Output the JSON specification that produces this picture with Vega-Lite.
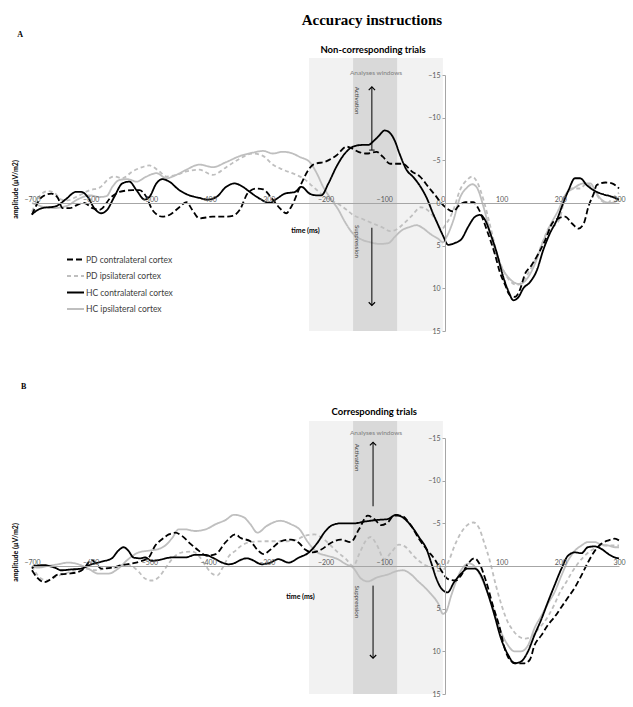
{
"$schema":"https://vega.github.io/schema/vega-lite/v6.json",
"background":"white",
"padding":{"left":11,"top":12,"right":5,"bottom":5},
"config":{"view":{"stroke":null},"legend":{"symbolType":"stroke"}},
"bounds":"flush",
"spacing":107,
"datasets":{
"one":[{}],
"A":[
{"s":"HCi","t":-700,"v":0},{"s":"HCi","t":-683,"v":0.4},{"s":"HCi","t":-665,"v":0.6},{"s":"HCi","t":-643,"v":0.4},{"s":"HCi","t":-620,"v":-0.5},{"s":"HCi","t":-602,"v":-0.9},{"s":"HCi","t":-585,"v":-0.7},{"s":"HCi","t":-573,"v":-0.8},{"s":"HCi","t":-563,"v":-1.9},{"s":"HCi","t":-551,"v":-2.7},{"s":"HCi","t":-537,"v":-2.8},{"s":"HCi","t":-522,"v":-2.5},{"s":"HCi","t":-505,"v":-3.1},{"s":"HCi","t":-488,"v":-3.5},{"s":"HCi","t":-471,"v":-2.9},{"s":"HCi","t":-454,"v":-3.3},{"s":"HCi","t":-437,"v":-3.9},{"s":"HCi","t":-415,"v":-4.5},{"s":"HCi","t":-392,"v":-4.2},{"s":"HCi","t":-369,"v":-4.8},{"s":"HCi","t":-346,"v":-5.5},{"s":"HCi","t":-324,"v":-5.9},{"s":"HCi","t":-306,"v":-6.1},{"s":"HCi","t":-290,"v":-5.8},{"s":"HCi","t":-273,"v":-6.0},{"s":"HCi","t":-256,"v":-5.8},{"s":"HCi","t":-244,"v":-5.4},{"s":"HCi","t":-227,"v":-4.8},{"s":"HCi","t":-215,"v":-3.5},{"s":"HCi","t":-204,"v":-1.9},{"s":"HCi","t":-193,"v":-0.7},{"s":"HCi","t":-178,"v":0.8},{"s":"HCi","t":-167,"v":2.2},{"s":"HCi","t":-153,"v":3.6},{"s":"HCi","t":-138,"v":4.3},{"s":"HCi","t":-124,"v":4.6},{"s":"HCi","t":-107,"v":4.8},{"s":"HCi","t":-93,"v":4.7},{"s":"HCi","t":-81,"v":3.9},{"s":"HCi","t":-70,"v":3.2},{"s":"HCi","t":-56,"v":2.8},{"s":"HCi","t":-45,"v":2.6},{"s":"HCi","t":-33,"v":3.0},{"s":"HCi","t":-22,"v":3.6},{"s":"HCi","t":-8,"v":4.2},{"s":"HCi","t":0,"v":4.6},{"s":"HCi","t":6,"v":4.0},{"s":"HCi","t":18,"v":2.0},{"s":"HCi","t":29,"v":-0.6},{"s":"HCi","t":41,"v":-1.8},{"s":"HCi","t":50,"v":-2.2},{"s":"HCi","t":58,"v":-1.8},{"s":"HCi","t":69,"v":0.4},{"s":"HCi","t":81,"v":3.6},{"s":"HCi","t":92,"v":6.3},{"s":"HCi","t":103,"v":7.9},{"s":"HCi","t":117,"v":9.1},{"s":"HCi","t":131,"v":9.5},{"s":"HCi","t":143,"v":8.9},{"s":"HCi","t":157,"v":7.1},{"s":"HCi","t":169,"v":4.8},{"s":"HCi","t":183,"v":2.6},{"s":"HCi","t":197,"v":0.8},{"s":"HCi","t":208,"v":-0.9},{"s":"HCi","t":222,"v":-1.7},{"s":"HCi","t":240,"v":-2.3},{"s":"HCi","t":251,"v":-2.3},{"s":"HCi","t":262,"v":-1.1},{"s":"HCi","t":274,"v":-0.2},{"s":"HCi","t":285,"v":0},{"s":"HCi","t":300,"v":-0.4},
{"s":"PDi","t":-700,"v":1.0},{"s":"PDi","t":-687,"v":-0.8},{"s":"PDi","t":-673,"v":-1.4},{"s":"PDi","t":-662,"v":-1.2},{"s":"PDi","t":-650,"v":-0.4},{"s":"PDi","t":-640,"v":-0.3},{"s":"PDi","t":-625,"v":-0.7},{"s":"PDi","t":-602,"v":-1.5},{"s":"PDi","t":-585,"v":-1.8},{"s":"PDi","t":-568,"v":-2.9},{"s":"PDi","t":-560,"v":-3.1},{"s":"PDi","t":-546,"v":-2.9},{"s":"PDi","t":-529,"v":-3.7},{"s":"PDi","t":-512,"v":-4.2},{"s":"PDi","t":-500,"v":-4.4},{"s":"PDi","t":-483,"v":-3.7},{"s":"PDi","t":-471,"v":-3.1},{"s":"PDi","t":-454,"v":-3.3},{"s":"PDi","t":-437,"v":-3.7},{"s":"PDi","t":-415,"v":-3.9},{"s":"PDi","t":-392,"v":-3.3},{"s":"PDi","t":-369,"v":-4.2},{"s":"PDi","t":-346,"v":-5.2},{"s":"PDi","t":-324,"v":-5.8},{"s":"PDi","t":-306,"v":-5.5},{"s":"PDi","t":-290,"v":-4.5},{"s":"PDi","t":-272,"v":-3.9},{"s":"PDi","t":-250,"v":-3.3},{"s":"PDi","t":-238,"v":-2.9},{"s":"PDi","t":-221,"v":-1.9},{"s":"PDi","t":-204,"v":-0.9},{"s":"PDi","t":-193,"v":-0.4},{"s":"PDi","t":-176,"v":0.2},{"s":"PDi","t":-164,"v":0.8},{"s":"PDi","t":-153,"v":1.4},{"s":"PDi","t":-136,"v":1.9},{"s":"PDi","t":-119,"v":2.4},{"s":"PDi","t":-102,"v":2.9},{"s":"PDi","t":-90,"v":3.3},{"s":"PDi","t":-79,"v":3.1},{"s":"PDi","t":-68,"v":2.5},{"s":"PDi","t":-53,"v":1.5},{"s":"PDi","t":-38,"v":0.5},{"s":"PDi","t":-25,"v":0.9},{"s":"PDi","t":-12,"v":2.0},{"s":"PDi","t":-3,"v":3.1},{"s":"PDi","t":6,"v":2.4},{"s":"PDi","t":18,"v":0.8},{"s":"PDi","t":29,"v":-1.5},{"s":"PDi","t":41,"v":-2.7},{"s":"PDi","t":50,"v":-3.1},{"s":"PDi","t":58,"v":-2.5},{"s":"PDi","t":69,"v":-0.4},{"s":"PDi","t":81,"v":2.8},{"s":"PDi","t":92,"v":5.9},{"s":"PDi","t":103,"v":7.9},{"s":"PDi","t":114,"v":9.1},{"s":"PDi","t":126,"v":9.6},{"s":"PDi","t":137,"v":9.1},{"s":"PDi","t":148,"v":7.9},{"s":"PDi","t":160,"v":6.3},{"s":"PDi","t":171,"v":4.4},{"s":"PDi","t":182,"v":2.8},{"s":"PDi","t":191,"v":2.6},{"s":"PDi","t":200,"v":1.6},{"s":"PDi","t":208,"v":-0.7},{"s":"PDi","t":220,"v":-1.7},{"s":"PDi","t":234,"v":-1.7},{"s":"PDi","t":245,"v":-2.3},{"s":"PDi","t":257,"v":-1.5},{"s":"PDi","t":268,"v":-0.4},{"s":"PDi","t":280,"v":0},{"s":"PDi","t":291,"v":-0.7},{"s":"PDi","t":300,"v":-1.2},
{"s":"PDc","t":-700,"v":1.4},{"s":"PDc","t":-683,"v":-0.7},{"s":"PDc","t":-667,"v":-1.1},{"s":"PDc","t":-656,"v":-0.6},{"s":"PDc","t":-648,"v":0.6},{"s":"PDc","t":-636,"v":0.6},{"s":"PDc","t":-619,"v":0.1},{"s":"PDc","t":-611,"v":0},{"s":"PDc","t":-597,"v":0.6},{"s":"PDc","t":-585,"v":0.8},{"s":"PDc","t":-565,"v":-0.7},{"s":"PDc","t":-551,"v":-1.3},{"s":"PDc","t":-529,"v":-1.5},{"s":"PDc","t":-517,"v":-1.5},{"s":"PDc","t":-505,"v":-0.7},{"s":"PDc","t":-495,"v":0.8},{"s":"PDc","t":-478,"v":1.6},{"s":"PDc","t":-466,"v":1.4},{"s":"PDc","t":-449,"v":0.5},{"s":"PDc","t":-437,"v":-0.1},{"s":"PDc","t":-427,"v":0.8},{"s":"PDc","t":-415,"v":1.8},{"s":"PDc","t":-392,"v":1.6},{"s":"PDc","t":-370,"v":1.6},{"s":"PDc","t":-358,"v":1.5},{"s":"PDc","t":-346,"v":0.8},{"s":"PDc","t":-332,"v":-1.2},{"s":"PDc","t":-318,"v":-1.7},{"s":"PDc","t":-306,"v":-1.6},{"s":"PDc","t":-292,"v":-0.6},{"s":"PDc","t":-278,"v":0.6},{"s":"PDc","t":-267,"v":1.2},{"s":"PDc","t":-258,"v":0.4},{"s":"PDc","t":-241,"v":-2.3},{"s":"PDc","t":-229,"v":-3.9},{"s":"PDc","t":-221,"v":-4.5},{"s":"PDc","t":-198,"v":-4.9},{"s":"PDc","t":-181,"v":-5.6},{"s":"PDc","t":-164,"v":-6.6},{"s":"PDc","t":-155,"v":-6.4},{"s":"PDc","t":-144,"v":-6.0},{"s":"PDc","t":-130,"v":-5.8},{"s":"PDc","t":-113,"v":-6.0},{"s":"PDc","t":-102,"v":-5.4},{"s":"PDc","t":-90,"v":-4.6},{"s":"PDc","t":-79,"v":-4.6},{"s":"PDc","t":-68,"v":-4.6},{"s":"PDc","t":-53,"v":-3.7},{"s":"PDc","t":-39,"v":-3.1},{"s":"PDc","t":-25,"v":-1.9},{"s":"PDc","t":-13,"v":-0.9},{"s":"PDc","t":-4,"v":-0.1},{"s":"PDc","t":6,"v":0.6},{"s":"PDc","t":18,"v":1.0},{"s":"PDc","t":26,"v":0.4},{"s":"PDc","t":38,"v":-0.1},{"s":"PDc","t":52,"v":-0.1},{"s":"PDc","t":60,"v":0.6},{"s":"PDc","t":75,"v":3.2},{"s":"PDc","t":89,"v":6.1},{"s":"PDc","t":97,"v":8.1},{"s":"PDc","t":106,"v":9.6},{"s":"PDc","t":114,"v":10.8},{"s":"PDc","t":123,"v":11.0},{"s":"PDc","t":131,"v":10.2},{"s":"PDc","t":140,"v":8.3},{"s":"PDc","t":151,"v":7.3},{"s":"PDc","t":163,"v":5.9},{"s":"PDc","t":174,"v":4.4},{"s":"PDc","t":186,"v":2.4},{"s":"PDc","t":197,"v":1.8},{"s":"PDc","t":208,"v":1.6},{"s":"PDc","t":220,"v":2.4},{"s":"PDc","t":231,"v":3.0},{"s":"PDc","t":240,"v":2.4},{"s":"PDc","t":248,"v":0.4},{"s":"PDc","t":257,"v":-1.1},{"s":"PDc","t":262,"v":-2.1},{"s":"PDc","t":277,"v":-2.4},{"s":"PDc","t":288,"v":-2.3},{"s":"PDc","t":300,"v":-1.7},
{"s":"HCc","t":-700,"v":1.3},{"s":"HCc","t":-683,"v":0.6},{"s":"HCc","t":-660,"v":0.4},{"s":"HCc","t":-643,"v":-0.4},{"s":"HCc","t":-625,"v":-1.3},{"s":"HCc","t":-616,"v":-1.3},{"s":"HCc","t":-605,"v":-0.7},{"s":"HCc","t":-594,"v":0.6},{"s":"HCc","t":-582,"v":1.2},{"s":"HCc","t":-572,"v":0.8},{"s":"HCc","t":-560,"v":-0.7},{"s":"HCc","t":-546,"v":-2.3},{"s":"HCc","t":-534,"v":-2.5},{"s":"HCc","t":-522,"v":-1.5},{"s":"HCc","t":-508,"v":-0.4},{"s":"HCc","t":-500,"v":-0.7},{"s":"HCc","t":-488,"v":-2.3},{"s":"HCc","t":-478,"v":-2.8},{"s":"HCc","t":-466,"v":-2.5},{"s":"HCc","t":-449,"v":-1.5},{"s":"HCc","t":-432,"v":-0.9},{"s":"HCc","t":-415,"v":-0.6},{"s":"HCc","t":-401,"v":-0.4},{"s":"HCc","t":-386,"v":-0.7},{"s":"HCc","t":-369,"v":-1.9},{"s":"HCc","t":-355,"v":-2.3},{"s":"HCc","t":-341,"v":-1.9},{"s":"HCc","t":-329,"v":-1.3},{"s":"HCc","t":-312,"v":-0.5},{"s":"HCc","t":-295,"v":0},{"s":"HCc","t":-283,"v":-0.5},{"s":"HCc","t":-269,"v":-1.1},{"s":"HCc","t":-252,"v":-1.3},{"s":"HCc","t":-241,"v":-1.9},{"s":"HCc","t":-227,"v":-1.1},{"s":"HCc","t":-215,"v":-0.9},{"s":"HCc","t":-207,"v":-0.9},{"s":"HCc","t":-195,"v":-2.3},{"s":"HCc","t":-181,"v":-4.3},{"s":"HCc","t":-167,"v":-5.8},{"s":"HCc","t":-153,"v":-6.6},{"s":"HCc","t":-138,"v":-6.8},{"s":"HCc","t":-127,"v":-6.8},{"s":"HCc","t":-119,"v":-7.2},{"s":"HCc","t":-110,"v":-7.8},{"s":"HCc","t":-99,"v":-8.5},{"s":"HCc","t":-90,"v":-8.2},{"s":"HCc","t":-82,"v":-7.3},{"s":"HCc","t":-74,"v":-5.8},{"s":"HCc","t":-62,"v":-3.9},{"s":"HCc","t":-50,"v":-3.0},{"s":"HCc","t":-40,"v":-2.1},{"s":"HCc","t":-27,"v":-0.5},{"s":"HCc","t":-17,"v":1.2},{"s":"HCc","t":-8,"v":2.6},{"s":"HCc","t":0,"v":3.8},{"s":"HCc","t":9,"v":4.9},{"s":"HCc","t":20,"v":4.7},{"s":"HCc","t":32,"v":4.2},{"s":"HCc","t":43,"v":2.8},{"s":"HCc","t":55,"v":1.6},{"s":"HCc","t":63,"v":1.4},{"s":"HCc","t":72,"v":2.0},{"s":"HCc","t":81,"v":3.6},{"s":"HCc","t":92,"v":5.9},{"s":"HCc","t":103,"v":8.7},{"s":"HCc","t":112,"v":10.4},{"s":"HCc","t":120,"v":11.4},{"s":"HCc","t":129,"v":11.0},{"s":"HCc","t":137,"v":10.0},{"s":"HCc","t":148,"v":9.3},{"s":"HCc","t":160,"v":7.9},{"s":"HCc","t":171,"v":5.5},{"s":"HCc","t":182,"v":3.6},{"s":"HCc","t":194,"v":2.0},{"s":"HCc","t":205,"v":0},{"s":"HCc","t":214,"v":-1.5},{"s":"HCc","t":225,"v":-2.9},{"s":"HCc","t":234,"v":-2.9},{"s":"HCc","t":245,"v":-2.1},{"s":"HCc","t":259,"v":-1.4},{"s":"HCc","t":274,"v":-1.0},{"s":"HCc","t":285,"v":-0.8},{"s":"HCc","t":300,"v":-0.4}
],
"B":[
{"s":"HCi","t":-700,"v":0},{"s":"HCi","t":-690,"v":0.2},{"s":"HCi","t":-673,"v":0},{"s":"HCi","t":-656,"v":-0.2},{"s":"HCi","t":-638,"v":-0.4},{"s":"HCi","t":-621,"v":-0.2},{"s":"HCi","t":-604,"v":0.3},{"s":"HCi","t":-587,"v":0.9},{"s":"HCi","t":-570,"v":0.9},{"s":"HCi","t":-553,"v":0.3},{"s":"HCi","t":-536,"v":-0.8},{"s":"HCi","t":-518,"v":-1.6},{"s":"HCi","t":-501,"v":-1.8},{"s":"HCi","t":-484,"v":-2.0},{"s":"HCi","t":-473,"v":-2.4},{"s":"HCi","t":-461,"v":-3.3},{"s":"HCi","t":-450,"v":-4.3},{"s":"HCi","t":-439,"v":-4.3},{"s":"HCi","t":-422,"v":-4.1},{"s":"HCi","t":-404,"v":-4.3},{"s":"HCi","t":-387,"v":-4.9},{"s":"HCi","t":-370,"v":-5.4},{"s":"HCi","t":-356,"v":-6.0},{"s":"HCi","t":-339,"v":-5.7},{"s":"HCi","t":-328,"v":-4.9},{"s":"HCi","t":-316,"v":-3.9},{"s":"HCi","t":-300,"v":-4.7},{"s":"HCi","t":-277,"v":-5.3},{"s":"HCi","t":-259,"v":-4.9},{"s":"HCi","t":-243,"v":-4.2},{"s":"HCi","t":-231,"v":-2.9},{"s":"HCi","t":-214,"v":-1.6},{"s":"HCi","t":-197,"v":-1.2},{"s":"HCi","t":-179,"v":-0.8},{"s":"HCi","t":-165,"v":-0.2},{"s":"HCi","t":-153,"v":0.2},{"s":"HCi","t":-139,"v":1.5},{"s":"HCi","t":-128,"v":1.8},{"s":"HCi","t":-111,"v":1.3},{"s":"HCi","t":-94,"v":1.0},{"s":"HCi","t":-79,"v":0.6},{"s":"HCi","t":-68,"v":0.5},{"s":"HCi","t":-54,"v":1.0},{"s":"HCi","t":-42,"v":1.8},{"s":"HCi","t":-31,"v":2.5},{"s":"HCi","t":-20,"v":3.3},{"s":"HCi","t":-8,"v":4.4},{"s":"HCi","t":0,"v":5.6},{"s":"HCi","t":5,"v":5.4},{"s":"HCi","t":14,"v":3.5},{"s":"HCi","t":22,"v":1.9},{"s":"HCi","t":31,"v":0.5},{"s":"HCi","t":45,"v":-0.3},{"s":"HCi","t":56,"v":0.2},{"s":"HCi","t":65,"v":1.3},{"s":"HCi","t":76,"v":3.1},{"s":"HCi","t":88,"v":5.4},{"s":"HCi","t":99,"v":7.7},{"s":"HCi","t":111,"v":9.3},{"s":"HCi","t":122,"v":10.0},{"s":"HCi","t":133,"v":10.0},{"s":"HCi","t":145,"v":9.3},{"s":"HCi","t":156,"v":7.3},{"s":"HCi","t":168,"v":5.8},{"s":"HCi","t":179,"v":4.4},{"s":"HCi","t":190,"v":3.1},{"s":"HCi","t":202,"v":1.1},{"s":"HCi","t":213,"v":-0.6},{"s":"HCi","t":225,"v":-1.8},{"s":"HCi","t":236,"v":-2.4},{"s":"HCi","t":247,"v":-2.8},{"s":"HCi","t":259,"v":-2.8},{"s":"HCi","t":270,"v":-2.5},{"s":"HCi","t":282,"v":-2.4},{"s":"HCi","t":293,"v":-2.2},{"s":"HCi","t":300,"v":-2.2},
{"s":"PDi","t":-700,"v":0},{"s":"PDi","t":-696,"v":0.5},{"s":"PDi","t":-684,"v":1.5},{"s":"PDi","t":-673,"v":1.7},{"s":"PDi","t":-661,"v":1.3},{"s":"PDi","t":-644,"v":0.9},{"s":"PDi","t":-627,"v":0.5},{"s":"PDi","t":-610,"v":0.3},{"s":"PDi","t":-593,"v":0.5},{"s":"PDi","t":-575,"v":0.3},{"s":"PDi","t":-558,"v":0.2},{"s":"PDi","t":-541,"v":-0.2},{"s":"PDi","t":-530,"v":0},{"s":"PDi","t":-518,"v":0.7},{"s":"PDi","t":-507,"v":1.5},{"s":"PDi","t":-496,"v":1.7},{"s":"PDi","t":-484,"v":1.3},{"s":"PDi","t":-473,"v":0.3},{"s":"PDi","t":-459,"v":-1.0},{"s":"PDi","t":-444,"v":-1.6},{"s":"PDi","t":-427,"v":-1.7},{"s":"PDi","t":-416,"v":-1.2},{"s":"PDi","t":-404,"v":0},{"s":"PDi","t":-393,"v":0.9},{"s":"PDi","t":-384,"v":1.1},{"s":"PDi","t":-376,"v":0.3},{"s":"PDi","t":-364,"v":-1.2},{"s":"PDi","t":-353,"v":-1.8},{"s":"PDi","t":-345,"v":-2.3},{"s":"PDi","t":-328,"v":-2.8},{"s":"PDi","t":-305,"v":-2.9},{"s":"PDi","t":-282,"v":-2.9},{"s":"PDi","t":-265,"v":-2.9},{"s":"PDi","t":-248,"v":-3.1},{"s":"PDi","t":-237,"v":-3.5},{"s":"PDi","t":-219,"v":-3.7},{"s":"PDi","t":-202,"v":-3.1},{"s":"PDi","t":-191,"v":-2.4},{"s":"PDi","t":-179,"v":-1.6},{"s":"PDi","t":-165,"v":-0.8},{"s":"PDi","t":-153,"v":0},{"s":"PDi","t":-142,"v":-1.5},{"s":"PDi","t":-132,"v":-2.9},{"s":"PDi","t":-123,"v":-3.4},{"s":"PDi","t":-112,"v":-2.4},{"s":"PDi","t":-100,"v":-0.8},{"s":"PDi","t":-88,"v":-1.6},{"s":"PDi","t":-75,"v":-2.5},{"s":"PDi","t":-65,"v":-2.3},{"s":"PDi","t":-50,"v":-1.2},{"s":"PDi","t":-35,"v":-0.3},{"s":"PDi","t":-20,"v":0.2},{"s":"PDi","t":-5,"v":0.6},{"s":"PDi","t":0,"v":0.5},{"s":"PDi","t":10,"v":-0.6},{"s":"PDi","t":20,"v":-2.4},{"s":"PDi","t":30,"v":-3.8},{"s":"PDi","t":40,"v":-4.7},{"s":"PDi","t":52,"v":-5.1},{"s":"PDi","t":62,"v":-4.4},{"s":"PDi","t":70,"v":-2.8},{"s":"PDi","t":80,"v":-0.6},{"s":"PDi","t":90,"v":2.2},{"s":"PDi","t":100,"v":4.6},{"s":"PDi","t":110,"v":6.5},{"s":"PDi","t":120,"v":7.6},{"s":"PDi","t":130,"v":8.3},{"s":"PDi","t":140,"v":8.5},{"s":"PDi","t":150,"v":8.3},{"s":"PDi","t":160,"v":7.6},{"s":"PDi","t":170,"v":6.8},{"s":"PDi","t":180,"v":5.8},{"s":"PDi","t":190,"v":4.5},{"s":"PDi","t":200,"v":3.0},{"s":"PDi","t":210,"v":1.9},{"s":"PDi","t":220,"v":0.7},{"s":"PDi","t":230,"v":-0.3},{"s":"PDi","t":240,"v":-1.1},{"s":"PDi","t":250,"v":-1.7},{"s":"PDi","t":260,"v":-2.1},{"s":"PDi","t":270,"v":-2.4},{"s":"PDi","t":285,"v":-2.4},{"s":"PDi","t":300,"v":-2.4},
{"s":"PDc","t":-700,"v":0.5},{"s":"PDc","t":-692,"v":1.3},{"s":"PDc","t":-679,"v":1.9},{"s":"PDc","t":-667,"v":1.5},{"s":"PDc","t":-656,"v":1.0},{"s":"PDc","t":-638,"v":0.9},{"s":"PDc","t":-621,"v":0.7},{"s":"PDc","t":-610,"v":0.2},{"s":"PDc","t":-604,"v":-0.4},{"s":"PDc","t":-598,"v":-0.7},{"s":"PDc","t":-590,"v":-0.2},{"s":"PDc","t":-582,"v":0.3},{"s":"PDc","t":-564,"v":0.2},{"s":"PDc","t":-547,"v":-0.1},{"s":"PDc","t":-530,"v":-0.3},{"s":"PDc","t":-513,"v":-0.6},{"s":"PDc","t":-501,"v":-1.0},{"s":"PDc","t":-490,"v":-2.4},{"s":"PDc","t":-479,"v":-3.1},{"s":"PDc","t":-467,"v":-3.7},{"s":"PDc","t":-456,"v":-3.9},{"s":"PDc","t":-444,"v":-3.5},{"s":"PDc","t":-430,"v":-2.6},{"s":"PDc","t":-416,"v":-1.8},{"s":"PDc","t":-402,"v":-1.2},{"s":"PDc","t":-387,"v":-1.4},{"s":"PDc","t":-370,"v":-2.8},{"s":"PDc","t":-353,"v":-3.7},{"s":"PDc","t":-345,"v":-3.3},{"s":"PDc","t":-328,"v":-2.9},{"s":"PDc","t":-316,"v":-1.9},{"s":"PDc","t":-305,"v":-1.4},{"s":"PDc","t":-294,"v":-1.9},{"s":"PDc","t":-276,"v":-2.9},{"s":"PDc","t":-259,"v":-3.1},{"s":"PDc","t":-245,"v":-2.7},{"s":"PDc","t":-234,"v":-1.9},{"s":"PDc","t":-222,"v":-1.6},{"s":"PDc","t":-208,"v":-1.9},{"s":"PDc","t":-191,"v":-2.7},{"s":"PDc","t":-174,"v":-3.1},{"s":"PDc","t":-157,"v":-2.8},{"s":"PDc","t":-143,"v":-4.3},{"s":"PDc","t":-128,"v":-5.9},{"s":"PDc","t":-117,"v":-5.5},{"s":"PDc","t":-105,"v":-4.8},{"s":"PDc","t":-94,"v":-5.1},{"s":"PDc","t":-83,"v":-5.9},{"s":"PDc","t":-71,"v":-5.9},{"s":"PDc","t":-54,"v":-4.7},{"s":"PDc","t":-40,"v":-3.1},{"s":"PDc","t":-26,"v":-1.8},{"s":"PDc","t":-14,"v":-0.8},{"s":"PDc","t":-3,"v":0.5},{"s":"PDc","t":8,"v":1.5},{"s":"PDc","t":22,"v":1.7},{"s":"PDc","t":31,"v":1.1},{"s":"PDc","t":42,"v":-0.2},{"s":"PDc","t":54,"v":-0.9},{"s":"PDc","t":62,"v":-0.3},{"s":"PDc","t":74,"v":1.9},{"s":"PDc","t":85,"v":4.6},{"s":"PDc","t":97,"v":7.3},{"s":"PDc","t":105,"v":9.6},{"s":"PDc","t":114,"v":11.0},{"s":"PDc","t":125,"v":11.4},{"s":"PDc","t":139,"v":11.4},{"s":"PDc","t":148,"v":11.0},{"s":"PDc","t":156,"v":9.3},{"s":"PDc","t":168,"v":8.1},{"s":"PDc","t":179,"v":6.9},{"s":"PDc","t":190,"v":6.0},{"s":"PDc","t":202,"v":4.8},{"s":"PDc","t":213,"v":3.7},{"s":"PDc","t":225,"v":2.5},{"s":"PDc","t":236,"v":1.1},{"s":"PDc","t":247,"v":-0.4},{"s":"PDc","t":259,"v":-1.8},{"s":"PDc","t":270,"v":-2.6},{"s":"PDc","t":282,"v":-3.0},{"s":"PDc","t":293,"v":-3.2},{"s":"PDc","t":300,"v":-3.0},
{"s":"HCc","t":-700,"v":0.3},{"s":"HCc","t":-696,"v":0},{"s":"HCc","t":-679,"v":-0.1},{"s":"HCc","t":-661,"v":0.2},{"s":"HCc","t":-650,"v":0.5},{"s":"HCc","t":-633,"v":0.4},{"s":"HCc","t":-616,"v":0.3},{"s":"HCc","t":-599,"v":-0.2},{"s":"HCc","t":-582,"v":-0.5},{"s":"HCc","t":-564,"v":-0.9},{"s":"HCc","t":-553,"v":-1.8},{"s":"HCc","t":-544,"v":-2.2},{"s":"HCc","t":-536,"v":-1.8},{"s":"HCc","t":-527,"v":-1.0},{"s":"HCc","t":-516,"v":-0.9},{"s":"HCc","t":-507,"v":-1.0},{"s":"HCc","t":-496,"v":-0.6},{"s":"HCc","t":-484,"v":-0.7},{"s":"HCc","t":-462,"v":-1.0},{"s":"HCc","t":-439,"v":-1.0},{"s":"HCc","t":-422,"v":-1.3},{"s":"HCc","t":-404,"v":-1.3},{"s":"HCc","t":-393,"v":-1.0},{"s":"HCc","t":-376,"v":-0.4},{"s":"HCc","t":-365,"v":-0.2},{"s":"HCc","t":-353,"v":-0.4},{"s":"HCc","t":-345,"v":-0.7},{"s":"HCc","t":-334,"v":-0.9},{"s":"HCc","t":-328,"v":-0.8},{"s":"HCc","t":-308,"v":-0.2},{"s":"HCc","t":-294,"v":-0.4},{"s":"HCc","t":-280,"v":-0.8},{"s":"HCc","t":-263,"v":-0.4},{"s":"HCc","t":-245,"v":-1.0},{"s":"HCc","t":-228,"v":-1.6},{"s":"HCc","t":-214,"v":-2.7},{"s":"HCc","t":-200,"v":-4.1},{"s":"HCc","t":-188,"v":-4.8},{"s":"HCc","t":-174,"v":-5.0},{"s":"HCc","t":-151,"v":-5.0},{"s":"HCc","t":-134,"v":-5.2},{"s":"HCc","t":-111,"v":-5.4},{"s":"HCc","t":-94,"v":-5.5},{"s":"HCc","t":-80,"v":-6.0},{"s":"HCc","t":-71,"v":-5.8},{"s":"HCc","t":-54,"v":-4.7},{"s":"HCc","t":-40,"v":-3.3},{"s":"HCc","t":-28,"v":-2.0},{"s":"HCc","t":-20,"v":-0.4},{"s":"HCc","t":-11,"v":1.5},{"s":"HCc","t":-3,"v":2.6},{"s":"HCc","t":8,"v":3.1},{"s":"HCc","t":19,"v":1.9},{"s":"HCc","t":31,"v":0.9},{"s":"HCc","t":42,"v":0.3},{"s":"HCc","t":54,"v":0.3},{"s":"HCc","t":65,"v":1.1},{"s":"HCc","t":76,"v":3.1},{"s":"HCc","t":88,"v":5.8},{"s":"HCc","t":99,"v":8.5},{"s":"HCc","t":111,"v":10.4},{"s":"HCc","t":122,"v":11.4},{"s":"HCc","t":133,"v":11.2},{"s":"HCc","t":145,"v":10.0},{"s":"HCc","t":156,"v":8.1},{"s":"HCc","t":168,"v":6.2},{"s":"HCc","t":179,"v":4.2},{"s":"HCc","t":190,"v":2.3},{"s":"HCc","t":202,"v":0.3},{"s":"HCc","t":213,"v":-1.2},{"s":"HCc","t":225,"v":-1.6},{"s":"HCc","t":236,"v":-1.5},{"s":"HCc","t":247,"v":-2.2},{"s":"HCc","t":259,"v":-2.3},{"s":"HCc","t":270,"v":-2.0},{"s":"HCc","t":282,"v":-1.4},{"s":"HCc","t":293,"v":-1.0},{"s":"HCc","t":300,"v":-0.9}
]
},
"vconcat":[
{
"width":587,"height":256,
"data":{"name":"one"},
"layer":[
{"mark":{"type":"rect","color":"#f2f2f2"},"encoding":{"x":{"datum":-228,"type":"quantitative"},"x2":{"datum":0},"y":{"datum":-17,"type":"quantitative"},"y2":{"datum":15}}},
{"mark":{"type":"rect","color":"#d9d9d9"},"encoding":{"x":{"datum":-153,"type":"quantitative"},"x2":{"datum":-78},"y":{"datum":-17,"type":"quantitative"},"y2":{"datum":15}}},
{"data":{"name":"A"},"mark":{"type":"line","strokeWidth":1.8,"interpolate":"monotone"},
"encoding":{
"x":{"field":"t","type":"quantitative","scale":{"domain":[-700,300],"nice":false,"zero":false},"axis":{"zindex":1,"orient":"top","offset":-128,"values":[-700,-600,-500,-400,-300,-200,-100,0,100,200,300],"ticks":false,"grid":false,"labelFlush":false,"labelOverlap":false,"labelFont":"Lato","labelFontSize":7,"labelColor":"#595959","labelPadding":1,"domainColor":"#a6a6a6","title":"time (ms)","titleFont":"Lato","titleFontSize":7,"titleFontWeight":"bold","titleColor":"#000000","titleX":273,"titleY":27,"titleAlign":"center","titleBaseline":"middle"}},
"y":{"field":"v","type":"quantitative","scale":{"domain":[-15,15],"reverse":true,"nice":false,"zero":false},"axis":{"zindex":1,"orient":"left","offset":-413,"values":[-15,-10,-5,0,5,10,15],"tickSize":3,"tickColor":"#a6a6a6","grid":false,"labelFont":"Lato","labelFontSize":7,"labelColor":"#595959","labelPadding":2,"domainColor":"#a6a6a6","title":"amplitude (µV/m2)","titleFont":"Lato","titleFontSize":7,"titleFontWeight":"bold","titleColor":"#000000","titleX":-430,"titleY":114,"titleAngle":-90,"titleAlign":"center","titleBaseline":"middle"}},
"color":{"field":"s","type":"nominal","scale":{"domain":["PDc","PDi","HCc","HCi"],"range":["#000000","#bfbfbf","#000000","#bfbfbf"]},"legend":{"title":null,"orient":"none","legendX":34,"legendY":175,"symbolType":"stroke","symbolSize":289,"symbolStrokeWidth":2,"labelFont":"Lato","labelFontSize":8.5,"labelColor":"#404040","labelOffset":1,"rowPadding":2.5,"labelExpr":"datum.label=='PDc'?'PD contralateral cortex':datum.label=='PDi'?'PD ipsilateral cortex':datum.label=='HCc'?'HC contralateral cortex':'HC ipsilateral cortex'"}},
"strokeDash":{"field":"s","type":"nominal","scale":{"domain":["PDc","PDi","HCc","HCi"],"range":[[6,3],[4,3],[1,0],[1,0]]},"legend":{"title":null,"orient":"none","legendX":34,"legendY":175,"symbolType":"stroke","symbolSize":289,"symbolStrokeWidth":2,"labelFont":"Lato","labelFontSize":8.5,"labelColor":"#404040","labelOffset":1,"rowPadding":2.5,"labelExpr":"datum.label=='PDc'?'PD contralateral cortex':datum.label=='PDi'?'PD ipsilateral cortex':datum.label=='HCc'?'HC contralateral cortex':'HC ipsilateral cortex'"}}
}},
{"mark":{"type":"text","text":"Accuracy instructions","font":"Liberation Serif","fontSize":15,"fontWeight":"bold","color":"#000000"},"encoding":{"x":{"datum":-121,"type":"quantitative"},"y":{"datum":-21.45,"type":"quantitative"}}},
{"mark":{"type":"text","text":"Non-corresponding trials","font":"Lato","fontSize":9.5,"fontWeight":"bold","color":"#000000"},"encoding":{"x":{"datum":-119,"type":"quantitative"},"y":{"datum":-17.9,"type":"quantitative"}}},
{"mark":{"type":"text","text":"Analyses windows","font":"Lato","fontSize":6.5,"color":"#808080"},"encoding":{"x":{"datum":-114,"type":"quantitative"},"y":{"datum":-15.2,"type":"quantitative"}}},
{"mark":{"type":"text","text":"Activation","font":"Lato","fontSize":6.2,"angle":90,"color":"#404040"},"encoding":{"x":{"datum":-147,"type":"quantitative"},"y":{"datum":-12,"type":"quantitative"}}},
{"mark":{"type":"text","text":"Suppression","font":"Lato","fontSize":6.2,"angle":90,"color":"#404040"},"encoding":{"x":{"datum":-147,"type":"quantitative"},"y":{"datum":4.5,"type":"quantitative"}}},
{"mark":{"type":"text","text":"A","font":"Liberation Serif","fontSize":8,"fontWeight":"bold","color":"#000000"},"encoding":{"x":{"datum":-720,"type":"quantitative"},"y":{"datum":-19.7,"type":"quantitative"}}},
{"mark":{"type":"rule","color":"#000000","strokeWidth":1},"encoding":{"x":{"datum":-121,"type":"quantitative"},"y":{"datum":-6.2,"type":"quantitative"},"y2":{"datum":-13.6}}},
{"mark":{"type":"rule","color":"#000000","strokeWidth":1},"encoding":{"x":{"datum":-121,"type":"quantitative"},"y":{"datum":2.9,"type":"quantitative"},"y2":{"datum":12}}},
{"mark":{"type":"point","shape":"M-1,1L0,0L1,1","filled":false,"stroke":"#000000","strokeWidth":1.2,"size":40,"opacity":1},"encoding":{"x":{"datum":-121,"type":"quantitative"},"y":{"datum":-13.6,"type":"quantitative"}}},
{"mark":{"type":"point","shape":"M-1,-1L0,0L1,-1","filled":false,"stroke":"#000000","strokeWidth":1.2,"size":40,"opacity":1},"encoding":{"x":{"datum":-121,"type":"quantitative"},"y":{"datum":12,"type":"quantitative"}}},
{"mark":{"type":"point","shape":"M-1,0L1,0","filled":false,"stroke":"#000000","strokeWidth":1,"size":30,"opacity":1},"encoding":{"x":{"datum":-121,"type":"quantitative"},"y":{"datum":-6.2,"type":"quantitative"}}}
]
},
{
"width":587,"height":256,
"data":{"name":"one"},
"layer":[
{"mark":{"type":"rect","color":"#f2f2f2"},"encoding":{"x":{"datum":-228,"type":"quantitative"},"x2":{"datum":0},"y":{"datum":-17,"type":"quantitative"},"y2":{"datum":15}}},
{"mark":{"type":"rect","color":"#d9d9d9"},"encoding":{"x":{"datum":-153,"type":"quantitative"},"x2":{"datum":-78},"y":{"datum":-17,"type":"quantitative"},"y2":{"datum":15}}},
{"data":{"name":"B"},"mark":{"type":"line","strokeWidth":1.8,"interpolate":"monotone"},
"encoding":{
"x":{"field":"t","type":"quantitative","scale":{"domain":[-700,300],"nice":false,"zero":false},"axis":{"zindex":1,"orient":"top","offset":-128,"values":[-700,-600,-500,-400,-300,-200,-100,0,100,200,300],"ticks":false,"grid":false,"labelFlush":false,"labelOverlap":false,"labelFont":"Lato","labelFontSize":7,"labelColor":"#595959","labelPadding":1,"domainColor":"#a6a6a6","title":"time (ms)","titleFont":"Lato","titleFontSize":7,"titleFontWeight":"bold","titleColor":"#000000","titleX":268,"titleY":30,"titleAlign":"center","titleBaseline":"middle"}},
"y":{"field":"v","type":"quantitative","scale":{"domain":[-15,15],"reverse":true,"nice":false,"zero":false},"axis":{"zindex":1,"orient":"left","offset":-413,"values":[-15,-10,-5,0,5,10,15],"tickSize":3,"tickColor":"#a6a6a6","grid":false,"labelFont":"Lato","labelFontSize":7,"labelColor":"#595959","labelPadding":2,"domainColor":"#a6a6a6","title":"amplitude (µV/m2)","titleFont":"Lato","titleFontSize":7,"titleFontWeight":"bold","titleColor":"#000000","titleX":-430,"titleY":114,"titleAngle":-90,"titleAlign":"center","titleBaseline":"middle"}},
"color":{"field":"s","type":"nominal","scale":{"domain":["PDc","PDi","HCc","HCi"],"range":["#000000","#bfbfbf","#000000","#bfbfbf"]},"legend":{"title":null,"orient":"none","legendX":34,"legendY":175,"symbolType":"stroke","symbolSize":289,"symbolStrokeWidth":2,"labelFont":"Lato","labelFontSize":8.5,"labelColor":"#404040","labelOffset":1,"rowPadding":2.5,"labelExpr":"datum.label=='PDc'?'PD contralateral cortex':datum.label=='PDi'?'PD ipsilateral cortex':datum.label=='HCc'?'HC contralateral cortex':'HC ipsilateral cortex'"}},
"strokeDash":{"field":"s","type":"nominal","scale":{"domain":["PDc","PDi","HCc","HCi"],"range":[[6,3],[4,3],[1,0],[1,0]]},"legend":{"title":null,"orient":"none","legendX":34,"legendY":175,"symbolType":"stroke","symbolSize":289,"symbolStrokeWidth":2,"labelFont":"Lato","labelFontSize":8.5,"labelColor":"#404040","labelOffset":1,"rowPadding":2.5,"labelExpr":"datum.label=='PDc'?'PD contralateral cortex':datum.label=='PDi'?'PD ipsilateral cortex':datum.label=='HCc'?'HC contralateral cortex':'HC ipsilateral cortex'"}}
}},
{"mark":{"type":"text","text":"Corresponding trials","font":"Lato","fontSize":9.5,"fontWeight":"bold","color":"#000000"},"encoding":{"x":{"datum":-117,"type":"quantitative"},"y":{"datum":-18.05,"type":"quantitative"}}},
{"mark":{"type":"text","text":"Analyses windows","font":"Lato","fontSize":6.5,"color":"#808080"},"encoding":{"x":{"datum":-114,"type":"quantitative"},"y":{"datum":-15.6,"type":"quantitative"}}},
{"mark":{"type":"text","text":"Activation","font":"Lato","fontSize":6.2,"angle":90,"color":"#404040"},"encoding":{"x":{"datum":-147,"type":"quantitative"},"y":{"datum":-12.7,"type":"quantitative"}}},
{"mark":{"type":"text","text":"Suppression","font":"Lato","fontSize":6.2,"angle":90,"color":"#404040"},"encoding":{"x":{"datum":-147,"type":"quantitative"},"y":{"datum":4.2,"type":"quantitative"}}},
{"mark":{"type":"text","text":"B","font":"Liberation Serif","fontSize":8,"fontWeight":"bold","color":"#000000"},"encoding":{"x":{"datum":-714,"type":"quantitative"},"y":{"datum":-21,"type":"quantitative"}}},
{"mark":{"type":"rule","color":"#000000","strokeWidth":1},"encoding":{"x":{"datum":-119,"type":"quantitative"},"y":{"datum":-7,"type":"quantitative"},"y2":{"datum":-14.5}}},
{"mark":{"type":"rule","color":"#000000","strokeWidth":1},"encoding":{"x":{"datum":-119,"type":"quantitative"},"y":{"datum":2.3,"type":"quantitative"},"y2":{"datum":10.8}}},
{"mark":{"type":"point","shape":"M-1,1L0,0L1,1","filled":false,"stroke":"#000000","strokeWidth":1.2,"size":40,"opacity":1},"encoding":{"x":{"datum":-119,"type":"quantitative"},"y":{"datum":-14.5,"type":"quantitative"}}},
{"mark":{"type":"point","shape":"M-1,-1L0,0L1,-1","filled":false,"stroke":"#000000","strokeWidth":1.2,"size":40,"opacity":1},"encoding":{"x":{"datum":-119,"type":"quantitative"},"y":{"datum":10.8,"type":"quantitative"}}}
]
}
]
}
